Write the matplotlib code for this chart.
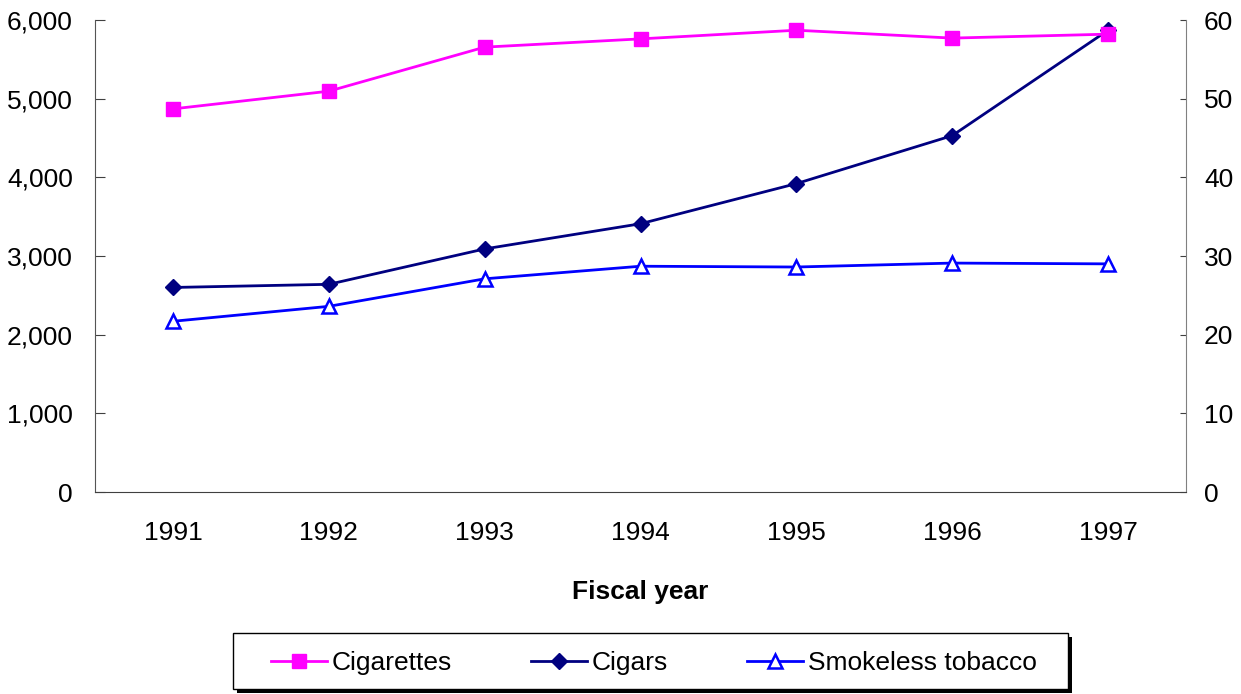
import numpy as np
import matplotlib
matplotlib.use("Agg")
import matplotlib.pyplot as plt
from matplotlib.patches import Rectangle
from matplotlib.ticker import FuncFormatter

plt.rcParams['font.family'] = ['Liberation Sans', 'DejaVu Sans']

years = ['1991', '1992', '1993', '1994', '1995', '1996', '1997']
cigarettes = [4870, 5095, 5655, 5760, 5870, 5770, 5820]   # left axis
cigars = [26.0, 26.4, 30.9, 34.1, 39.2, 45.3, 58.7]       # right axis
smokeless = [21.7, 23.6, 27.1, 28.7, 28.6, 29.1, 29.0]    # right axis

x = np.arange(len(years))
fs = 19
W, H = 1241, 694

fig = plt.figure(figsize=(W/100, H/100), dpi=100)
ax = fig.add_axes([95/W, 1-492/H, (1186-95)/W, (492-20)/H])
ax2 = ax.twinx()

l1, = ax.plot(x, cigarettes, color='#FF00FF', lw=2, marker='s', ms=10.5,
              label='Cigarettes')
l2, = ax2.plot(x, cigars, color='#000080', lw=2, marker='D', ms=8.5,
               label='Cigars')
l3, = ax2.plot(x, smokeless, color='#0000FF', lw=2, marker='^', ms=10,
               mfc='white', mew=1.8, label='Smokeless tobacco')
ax.set_zorder(ax2.get_zorder() + 1)
ax.patch.set_visible(False)

ax.set_xlim(-0.5, 6.5)
ax.set_ylim(0, 6000)
ax2.set_ylim(0, 60)
ax.set_yticks(np.arange(0, 6001, 1000))
ax2.set_yticks(np.arange(0, 61, 10))
ax.yaxis.set_major_formatter(FuncFormatter(lambda v, p: f'{int(v):,}'))
ax.set_xticks(x)
ax.set_xticklabels(years)

for a in (ax, ax2):
    a.spines['top'].set_visible(False)
ax.spines['right'].set_visible(False)
ax2.spines['left'].set_visible(False)
ax2.spines['bottom'].set_visible(False)
ax.spines['left'].set_color('#555555')
ax.spines['bottom'].set_color('#404040')
ax2.spines['right'].set_color('#808080')

ax.tick_params(axis='y', direction='in', length=7, pad=16, labelsize=fs,
               color='#404040')
ax2.tick_params(axis='y', direction='in', length=4, pad=13, labelsize=fs,
                color='#404040')
ax.tick_params(axis='x', length=0, pad=21, labelsize=fs)

ax.set_xlabel('Fiscal year', fontsize=fs, fontweight='bold', labelpad=25)

# legend box with a hard shadow, drawn by hand
fig.patches.append(Rectangle((237/W, 1-693/H), 835/W, 56/H, transform=fig.transFigure,
                             facecolor='black', edgecolor='none', zorder=1))
fig.patches.append(Rectangle((233/W, 1-689/H), 835/W, 56/H, transform=fig.transFigure,
                             facecolor='white', edgecolor='black', lw=1.0, zorder=2))
leg = fig.legend([l1, l2, l3], ['Cigarettes', 'Cigars', 'Smokeless tobacco'],
                 loc='center', ncol=3, bbox_to_anchor=(654/W, 1-663/H),
                 fontsize=fs, frameon=False,
                 handlelength=2.1, handletextpad=0.2, columnspacing=3.0)
leg.set_zorder(3)

fig.savefig('out.png', dpi=100)
